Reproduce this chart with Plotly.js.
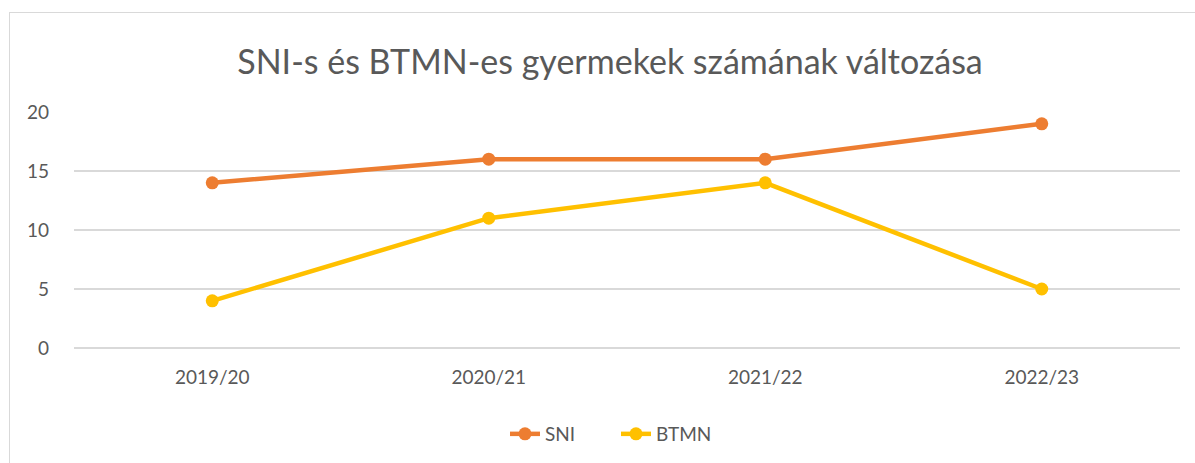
<!DOCTYPE html>
<html><head><meta charset="utf-8">
<script src="https://cdn.plot.ly/plotly-3.0.1.min.js"></script>
<style>
html,body{margin:0;padding:0;background:#fff;overflow:hidden}
#chart{width:1195px;height:463px}
#frame{position:absolute;left:9px;top:12px;width:1300px;height:600px;border:1.5px solid #d9d9d9;pointer-events:none}
</style></head>
<body>
<div id="chart"></div>
<div id="frame"></div>
<script>
const categories = ["2019/20", "2020/21", "2021/22", "2022/23"];
const sniValues = [14, 16, 16, 19];
const btmnValues = [4, 11, 14, 5];
const seriesNames = ["SNI", "BTMN"];
const titleText = "SNI-s és BTMN-es gyermekek számának változása";

const font = "Lato, 'Open Sans', sans-serif";
const textColor = "#595959";

const traces = [
  {x: categories, y: sniValues, name: seriesNames[0], type: "scatter", mode: "lines+markers",
   line: {color: "#ED7D31", width: 4.5}, marker: {color: "#ED7D31", size: 13}},
  {x: categories, y: btmnValues, name: seriesNames[1], type: "scatter", mode: "lines+markers",
   line: {color: "#FFC000", width: 4.5}, marker: {color: "#FFC000", size: 13}}
];

const layout = {
  width: 1195, height: 463,
  margin: {l: 74, r: 15, t: 112, b: 115},
  paper_bgcolor: "#fff", plot_bgcolor: "#fff",
  font: {family: font, color: textColor, size: 19},
  title: {text: titleText, font: {family: font, size: 34, color: textColor},
          x: 610/1195, xref: "container", xanchor: "center", y: 1 - 62/463, yref: "container", yanchor: "middle"},
  xaxis: {type: "category", range: [-0.5, 3.5], showgrid: false, zeroline: false, showline: false,
          ticks: "", ticklabelstandoff: 16, tickfont: {size: 19, color: textColor}, fixedrange: true},
  yaxis: {range: [0, 20], tickvals: [0, 5, 10, 15, 20], showgrid: true, gridcolor: "#d9d9d9", gridwidth: 1.5,
          zeroline: true, zerolinecolor: "#d9d9d9", zerolinewidth: 1.5, showline: false, ticks: "", ticklabelstandoff: 24,
          tickfont: {size: 19, color: textColor}, fixedrange: true},
  showlegend: true,
  legend: {orientation: "h", x: 616/1195, xref: "container", xanchor: "center", y: 1 - 434/463, yref: "container", yanchor: "middle",
           font: {size: 19, color: textColor}, itemwidth: 30, entrywidth: 66, traceorder: "normal"}
};

Plotly.newPlot("chart", traces, layout, {displayModeBar: false, staticPlot: true});
</script>
</body></html>
